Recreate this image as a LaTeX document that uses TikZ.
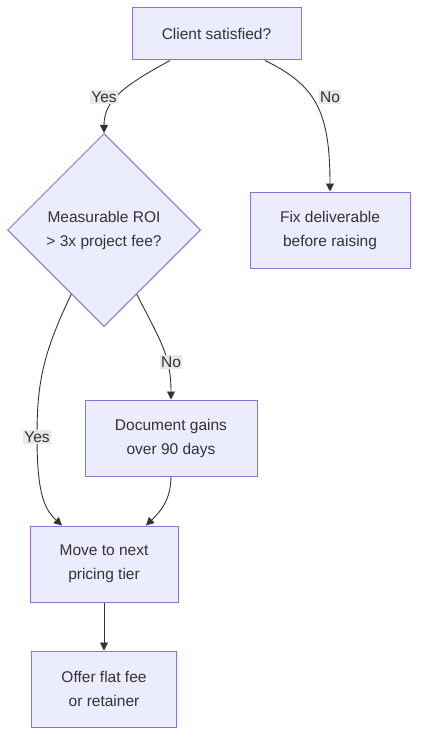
\documentclass[tikz,border=0pt]{standalone}
\usepackage{fontspec}
\setmainfont{Liberation Sans}
\usetikzlibrary{shapes.geometric,arrows.meta}
\definecolor{nfill}{HTML}{ECECFF}
\definecolor{nstroke}{HTML}{9370DB}
\definecolor{edgec}{HTML}{333333}
\definecolor{lblbg}{HTML}{E8E8E8}
\begin{document}
\begin{tikzpicture}[x=1pt,y=-1pt,
  font=\fontsize{15.5}{24}\selectfont,
  box/.style={draw=nstroke,fill=nfill,line width=1pt,text=edgec,align=center,inner sep=0pt},
  decision/.style={diamond,draw=nstroke,fill=nfill,line width=1pt,text=edgec,align=center,inner sep=0pt,minimum size=193},
  edge/.style={draw=edgec,line width=0.9pt,-{Triangle[length=8pt,width=8pt]}},
  lbl/.style={fill=lblbg,text=edgec,inner sep=1.5pt}]
\useasboundingbox (0,0) rectangle (426,749);
\node[box,minimum width=169,minimum height=52] (client) at (216.5,34) {Client satisfied?};
\node[decision] (dia) at (104,230) {Measurable ROI\\> 3x project fee?};
\node[box,minimum width=160,minimum height=76] (fix) at (330,230) {Fix deliverable\\before raising};
\node[box,minimum width=172,minimum height=76] (doc) at (171,438) {Document gains\\over 90 days};
\node[box,minimum width=148,minimum height=76] (move) at (104,564) {Move to next\\pricing tier};
\node[box,minimum width=145,minimum height=76] (offer) at (104,689) {Offer flat fee\\or retainer};

\draw[edge] ([xshift=-46.5]client.south) .. controls (125,85) and (104,100) .. (dia.north);
\draw[edge] ([xshift=48.5]client.south) .. controls (315,85) and (330,110) .. (fix.north);
\draw[edge] (dia.-63) .. controls (160,340) and (171,355) .. (doc.north);
\draw[edge] (dia.-117.6) .. controls (42,355) and (37,385) .. (37,437) .. controls (37,495) and (45,510) .. ([xshift=-42]move.north);
\draw[edge] (doc.south) .. controls (171,500) and (160,512) .. ([xshift=42]move.north);
\draw[edge] (move.south) -- (offer.north);

\node[lbl] (l1) at (104,97) {Yes};
\node[lbl] (l2) at (330,97) {No};
\node[lbl] (l3) at (171,362) {No};
\node[lbl] (l4) at (37,437) {Yes};
\end{tikzpicture}
\end{document}
